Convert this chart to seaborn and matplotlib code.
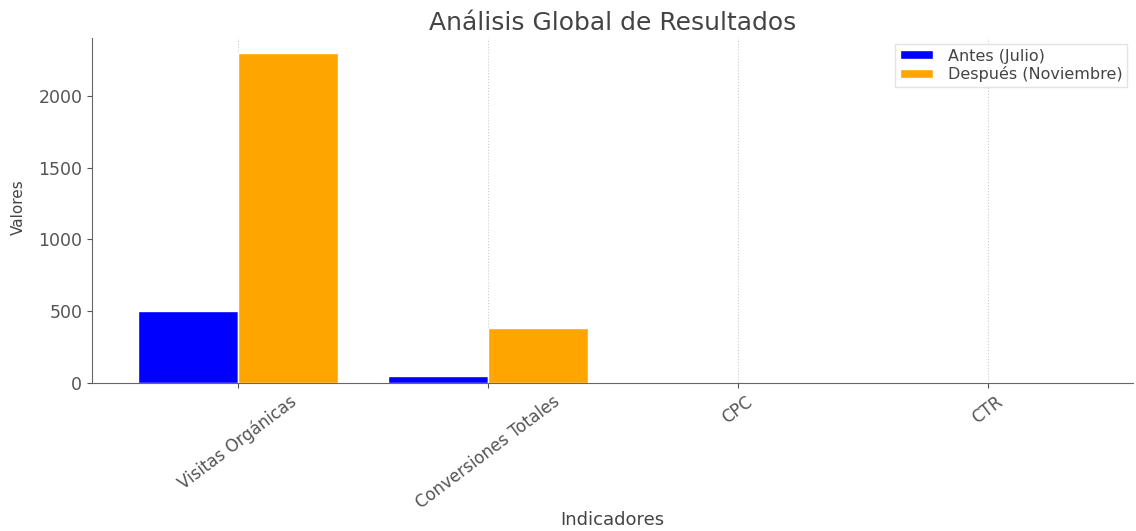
import pandas as pd
import seaborn as sns
import matplotlib.pyplot as plt

indicadores = ['Visitas Orgánicas', 'Conversiones Totales', 'CPC', 'CTR']
antes = [500, 50, 1.5, 2.0]
despues = [2300, 380, 0.9, 8.0]
periodos = ['Antes (Julio)', 'Después (Noviembre)']

df = pd.DataFrame({
    'Indicadores': indicadores * 2,
    'Valores': antes + despues,
    'Periodo': [periodos[0]] * len(antes) + [periodos[1]] * len(despues),
})

sns.set_style('ticks')
plt.rcParams['font.family'] = ['DejaVu Sans']
plt.rcParams['text.color'] = '#444444'
plt.rcParams['axes.labelcolor'] = '#444444'
plt.rcParams['xtick.color'] = '#555555'
plt.rcParams['ytick.color'] = '#555555'

fig = plt.figure(figsize=(11.36, 5.31), dpi=100)
ax = fig.add_axes([0.081, 0.279, 0.916, 0.649])

sns.barplot(ax=ax, data=df, x='Indicadores', y='Valores', hue='Periodo',
            palette=['blue', 'orange'], saturation=1, width=0.8)

ax.set_xlim(-0.584, 3.58)
ax.set_ylim(0, 2404)
ax.set_title('Análisis Global de Resultados', fontsize=18, color='#444444', pad=6)
ax.set_xlabel('Indicadores', fontsize=13)
ax.set_ylabel('Valores', fontsize=11)
ax.xaxis.set_label_coords(0.5, -0.372)
ax.yaxis.set_label_coords(-0.064, 0.51)
ax.tick_params(axis='y', labelsize=12.5)
ax.tick_params(axis='x', labelsize=12)
plt.setp(ax.get_xticklabels(), rotation=37, ha='center')
ax.grid(axis='x', linestyle=':', color='#cccccc', linewidth=0.8)
ax.set_axisbelow(True)
for s in ['top', 'right']:
    ax.spines[s].set_visible(False)
for s in ['left', 'bottom']:
    ax.spines[s].set_color('#666666')

ax.legend(loc='upper right', fontsize=11.5, title=None, frameon=True,
          edgecolor='#dddddd', fancybox=False, handlelength=2.1,
          handleheight=0.5, handletextpad=0.9, labelspacing=0.15,
          borderpad=0.3, borderaxespad=0.35)

plt.savefig('out.png')
